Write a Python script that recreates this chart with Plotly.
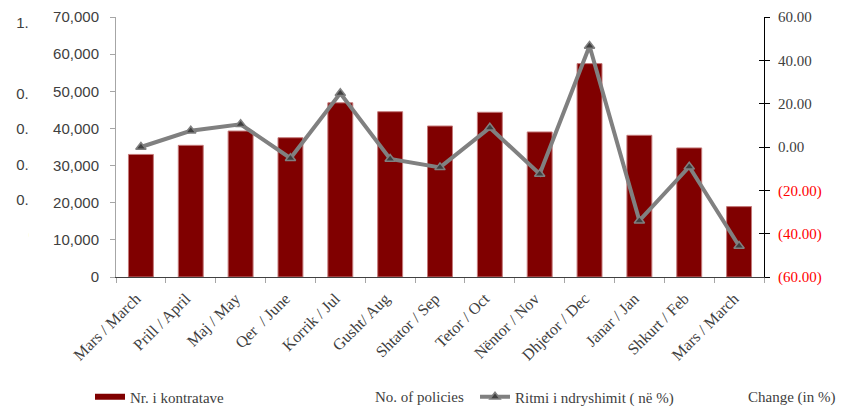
import plotly.graph_objects as go

# ---- data ----
months = ["Mars / March", "Prill / April", "Maj / May", "Qer\u00a0 / June", "Korrik / Jul",
          "Gusht/ Aug", "Shtator / Sep", "Tetor / Oct", "Nëntor / Nov", "Dhjetor / Dec",
          "Janar / Jan", "Shkurt / Feb", "Mars / March"]
contracts = [33000, 35450, 39300, 37500, 46900, 44500, 40650, 44350, 39050, 57450, 38150, 34750, 18950]
change_pct = [0.0, 7.5, 10.5, -5.2, 24.8, -5.5, -9.4, 8.9, -12.5, 46.6, -34.0, -9.1, -45.7]

left_ticks = [0, 10000, 20000, 30000, 40000, 50000, 60000, 70000]
right_tickvals = [-60, -40, -20, 0, 20, 40, 60]
right_ticktext = ["<span style='color:#ff0000'>(60.00)</span>",
                  "<span style='color:#ff0000'>(40.00)</span>",
                  "<span style='color:#ff0000'>(20.00)</span>",
                  "0.00", "20.00", "40.00", "60.00"]
ghost_tickvals = [0, 0.2, 0.4, 0.6, 0.8, 1.0, 1.2]
ghost_ticktext = ["0", "0.2", "0.4", "0.6", "0.8", "1", "1.2"]

bar_name = "Nr. i kontratave"
bar_name_en = "No. of policies"
line_name = "Ritmi i ndryshimit ( në %)"
line_name_en = "Change (in %)"

xs = list(range(len(months)))
boundaries = [i - 0.5 for i in range(len(months) + 1)]

# the page body has an 8px margin, so the figure starts at (8, 8) in the window
W, H = 836, 398
ML, MR, MT, MB = 108, 80, 9, 129
PW = W - ML - MR
PH = H - MT - MB
PAGE_OFF = 8


def px_x(p):  # page pixel -> paper fraction
    return (p - PAGE_OFF - ML) / PW


def px_y(p):
    return (H - MB - (p - PAGE_OFF)) / PH


SANS = "Liberation Sans, Arial, sans-serif"
SERIF = "Liberation Serif, Times New Roman, serif"
TXT = "#404040"
LEG_Y = 397

fig = go.Figure()
fig.add_trace(go.Bar(
    x=xs, y=contracts, width=0.5, showlegend=False, name=bar_name,
    marker=dict(color="#800000", line=dict(color="#c47a7a", width=1)),
))
fig.add_trace(go.Scatter(
    x=[None], y=[None], yaxis="y3", mode="lines", name=bar_name, legend="legend",
    line=dict(color="#800000", width=6),
))
fig.add_trace(go.Scatter(
    x=[None], y=[None], yaxis="y4", mode="lines", showlegend=False,
    hoverinfo="skip",
))
fig.add_trace(go.Scatter(
    x=xs, y=change_pct, yaxis="y2", mode="lines+markers", name=line_name,
    legend="legend2",
    line=dict(color="#808080", width=4),
    marker=dict(symbol="triangle-up", size=9, color="#404040",
                line=dict(color="#808080", width=1.5)),
))

leg_common = dict(orientation="h", xanchor="left", y=px_y(LEG_Y), yanchor="middle",
                  font=dict(family=SERIF, size=15, color=TXT),
                  bgcolor="rgba(0,0,0,0)")

fig.update_layout(
    width=W, height=H,
    margin=dict(l=ML, r=MR, t=MT, b=MB, pad=0, autoexpand=False),
    paper_bgcolor="white", plot_bgcolor="white",
    showlegend=True,
    legend=dict(x=px_x(90), **leg_common),
    legend2=dict(x=px_x(475), **leg_common),
    xaxis=dict(
        domain=[0, 1], range=[-0.5, 12.5], automargin=False,
        tickmode="array", tickvals=xs, ticktext=months, tickangle=-45,
        ticks="", showgrid=False, zeroline=False,
        showline=True, linecolor="#404040", linewidth=1,
        ticklabelshift=-5, ticklabelstandoff=5,
        tickfont=dict(family=SERIF, size=16, color=TXT),
        minor=dict(tickmode="array", tickvals=boundaries, ticks="outside",
                   ticklen=5, tickcolor="#a6a6a6", tickwidth=1, showgrid=False),
    ),
    yaxis=dict(
        range=[0, 70000], automargin=False, tickmode="array", tickvals=left_ticks,
        tickformat=",", ticks="outside", ticklen=5, tickcolor="#a6a6a6",
        showline=True, linecolor="#a6a6a6", linewidth=1,
        showgrid=False, zeroline=False, ticklabelstandoff=8,
        tickfont=dict(family=SANS, size=15, color=TXT),
    ),
    yaxis2=dict(
        overlaying="y", side="right", anchor="x", range=[-60, 60], automargin=False,
        tickmode="array", tickvals=right_tickvals, ticktext=right_ticktext,
        ticks="outside", ticklen=5, tickcolor="#000000",
        showline=True, linecolor="#000000", linewidth=1,
        showgrid=False, zeroline=False, ticklabelstandoff=5,
        tickfont=dict(family=SERIF, size=15, color=TXT),
    ),
    yaxis4=dict(
        overlaying="y", side="right", anchor="x", range=[-60, 60], automargin=False,
        tickmode="array", tickvals=right_tickvals, ticks="inside", ticklen=5,
        tickcolor="#000000", showticklabels=False, showline=False,
        showgrid=False, zeroline=False,
    ),
    yaxis3=dict(
        overlaying="y", side="left", anchor="free", position=0,
        range=[-0.238, 1.234], automargin=False,
        tickmode="array", tickvals=ghost_tickvals, ticktext=ghost_ticktext,
        ticks="", showline=False, showgrid=False, zeroline=False,
        ticklabelstandoff=79,
        tickfont=dict(family=SANS, size=15, color=TXT),
    ),
    shapes=[dict(type="rect", xref="paper", yref="paper",
                 x0=px_x(29), x1=px_x(49), y0=-0.05, y1=1.08,
                 fillcolor="white", line=dict(width=0), layer="above")],
    annotations=[
        dict(text=bar_name_en, xref="paper", yref="paper", x=px_x(466), y=px_y(LEG_Y),
             xanchor="right", yanchor="middle", showarrow=False,
             font=dict(family=SERIF, size=15, color=TXT)),
        dict(text=line_name_en, xref="paper", yref="paper", x=px_x(837), y=px_y(LEG_Y),
             xanchor="right", yanchor="middle", showarrow=False,
             font=dict(family=SERIF, size=15, color=TXT)),
    ],
)

fig.write_html("out.html")
